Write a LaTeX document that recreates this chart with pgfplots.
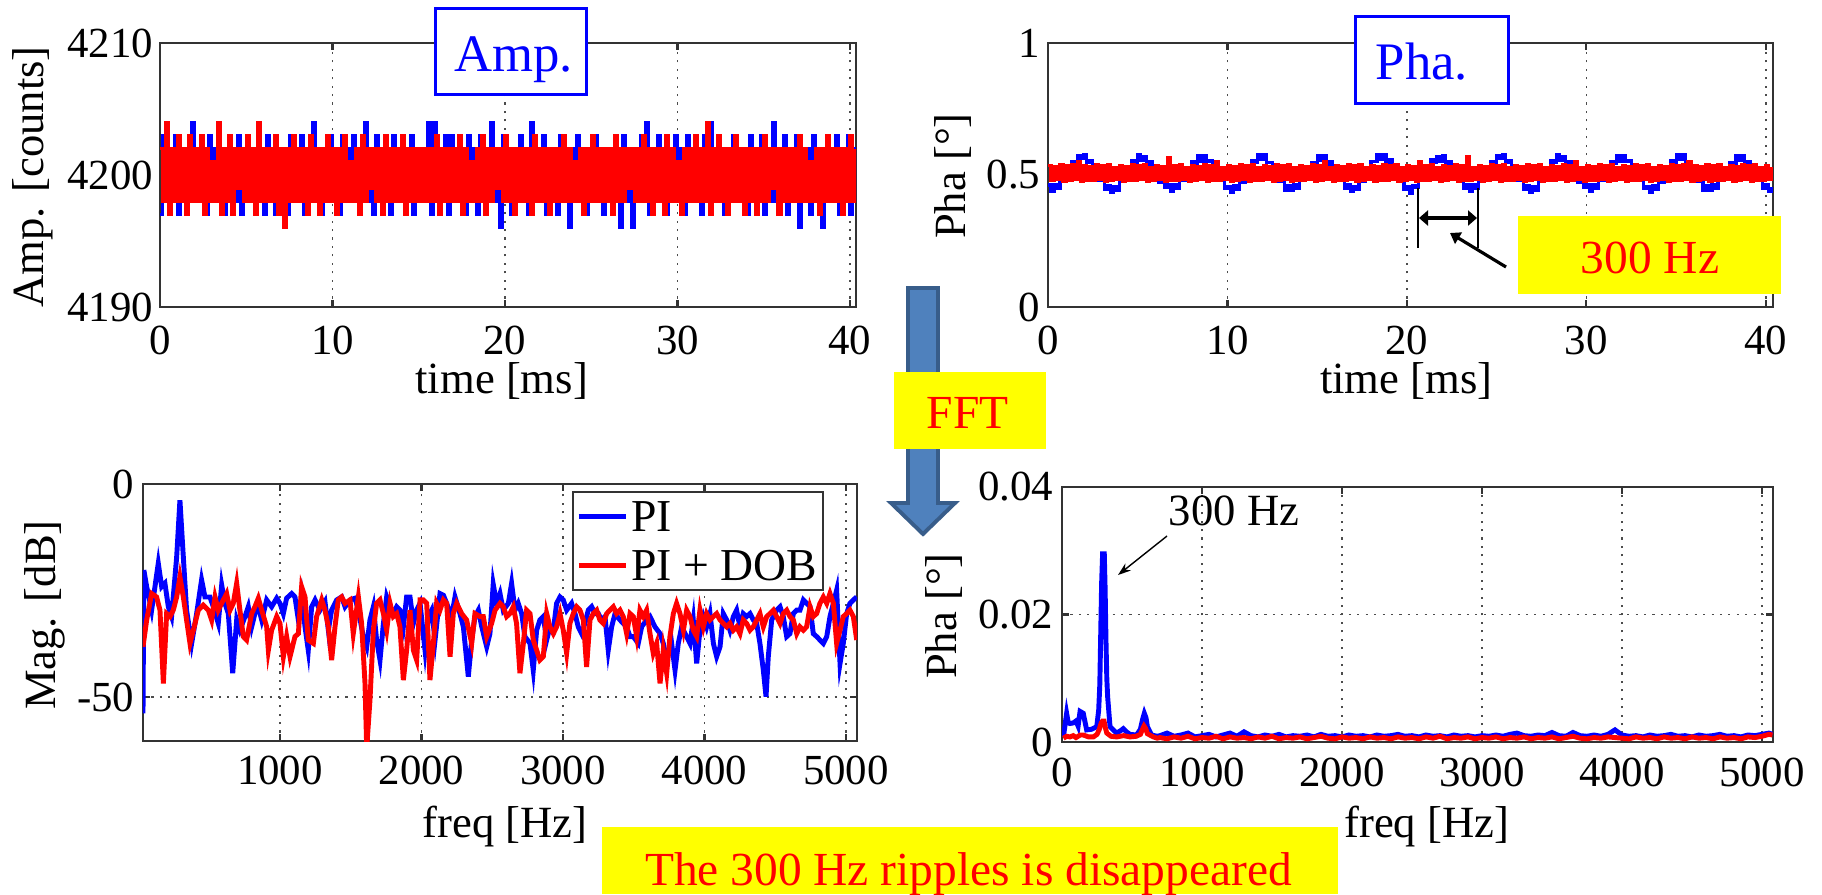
\documentclass[border=0pt]{standalone}
\usepackage{fontspec}
\setmainfont{Liberation Serif}
\usepackage{pgfplots}
\pgfplotsset{compat=1.18}
\usepackage{pgfplotstable}
\usetikzlibrary{arrows.meta}

\definecolor{arrowfill}{HTML}{4F81BD}
\definecolor{arrowdraw}{HTML}{385D8A}
\definecolor{hl}{HTML}{FFFF00}

% time records: a1/a2 = amplitude PI / PI+DOB, p1/p2 = phase PI / PI+DOB, one row every 1/6 ms
\pgfplotstableread{
a1 a2 p1 p2
4197 4202 0.462 0.536
4203 4198 0.439 0.478
4198 4204 0.465 0.532
4202 4197 0.448 0.482
4198 4202 0.478 0.540
4203 4198 0.474 0.475
4197 4203 0.516 0.534
4202 4198 0.514 0.480
4198 4202 0.550 0.538
4202 4197 0.541 0.484
4198 4203 0.574 0.550
4204 4198 0.561 0.477
4198 4202 0.578 0.536
4202 4198 0.547 0.479
4198 4203 0.554 0.532
4202 4197 0.518 0.478
4197 4202 0.522 0.540
4203 4198 0.478 0.482
4198 4201 0.478 0.534
4202 4198 0.444 0.475
4198 4204 0.459 0.538
4202 4197 0.435 0.480
4197 4202 0.458 0.530
4202 4198 0.443 0.484
4198 4203 0.482 0.536
4202 4197 0.482 0.477
4198 4202 0.521 0.532
4203 4199 0.517 0.479
4197 4202 0.554 0.540
4202 4198 0.548 0.478
4198 4203 0.579 0.534
4202 4198 0.557 0.482
4198 4202 0.570 0.538
4202 4197 0.542 0.475
4198 4204 0.551 0.530
4202 4198 0.514 0.480
4197 4202 0.515 0.536
4203 4198 0.473 0.484
4198 4202 0.482 0.532
4202 4198 0.452 0.477
4197 4203 0.464 0.566
4202 4197 0.438 0.479
4198 4202 0.462 0.534
4202 4196 0.450 0.478
4197 4202 0.487 0.538
4203 4198 0.478 0.482
4198 4203 0.513 0.530
4202 4198 0.512 0.475
4198 4202 0.551 0.536
4203 4198 0.544 0.480
4197 4202 0.572 0.532
4202 4197 0.552 0.484
4198 4203 0.574 0.540
4204 4198 0.550 0.477
4198 4202 0.556 0.534
4202 4197 0.517 0.479
4197 4202 0.519 0.550
4202 4198 0.480 0.478
4198 4203 0.487 0.530
4203 4198 0.448 0.482
4198 4202 0.456 0.536
4202 4197 0.433 0.475
4197 4202 0.459 0.532
4203 4198 0.446 0.480
4198 4203 0.480 0.540
4202 4198 0.473 0.484
4198 4201 0.517 0.534
4203 4198 0.520 0.477
4198 4202 0.556 0.538
4202 4197 0.547 0.479
4198 4203 0.576 0.530
4204 4198 0.559 0.478
4198 4202 0.579 0.536
4202 4199 0.546 0.482
4197 4202 0.548 0.532
4203 4198 0.512 0.475
4198 4202 0.516 0.540
4202 4197 0.476 0.480
4198 4203 0.480 0.534
4202 4198 0.443 0.484
4197 4202 0.460 0.538
4203 4198 0.441 0.477
4198 4202 0.464 0.530
4202 4198 0.449 0.479
4198 4203 0.484 0.536
4202 4197 0.480 0.478
4198 4202 0.522 0.532
4203 4198 0.516 0.482
4197 4202 0.548 0.540
4202 4198 0.542 0.475
4198 4202 0.573 0.534
4202 4198 0.555 0.480
4198 4202 0.572 0.550
4204 4198 0.541 0.484
4197 4202 0.552 0.530
4204 4198 0.520 0.477
4198 4203 0.521 0.536
4202 4197 0.479 0.479
4198 4202 0.484 0.532
4203 4198 0.450 0.478
4197 4202 0.465 0.540
4203 4198 0.437 0.482
4198 4202 0.456 0.534
4202 4198 0.444 0.475
4198 4203 0.481 0.538
4202 4197 0.476 0.480
4197 4202 0.515 0.530
4203 4198 0.511 0.484
4198 4201 0.552 0.536
4202 4198 0.550 0.477
4197 4202 0.578 0.532
4203 4198 0.558 0.479
4198 4203 0.576 0.540
4202 4197 0.548 0.478
4198 4202 0.557 0.534
4204 4198 0.516 0.482
4198 4202 0.513 0.538
4202 4199 0.474 0.475
4196 4202 0.481 0.530
4203 4198 0.446 0.480
4198 4203 0.458 0.536
4202 4198 0.432 0.484
4197 4202 0.460 0.532
4202 4197 0.452 0.477
4198 4202 0.486 0.550
4203 4198 0.479 0.479
4198 4202 0.519 0.534
4202 4198 0.518 0.478
4197 4202 0.557 0.538
4204 4197 0.546 0.482
4198 4203 0.570 0.530
4202 4198 0.553 0.475
4198 4202 0.573 0.536
4203 4198 0.544 0.480
4197 4202 0.550 0.532
4202 4197 0.511 0.484
4198 4202 0.517 0.540
4202 4198 0.482 0.477
4197 4202 0.486 0.534
4203 4198 0.449 0.479
4198 4203 0.462 0.570
4202 4198 0.439 0.478
4196 4202 0.465 0.530
4202 4198 0.448 0.482
4198 4201 0.478 0.536
4203 4198 0.474 0.475
4198 4202 0.516 0.532
4202 4197 0.514 0.480
4197 4202 0.550 0.540
4202 4198 0.541 0.484
4198 4203 0.574 0.534
4203 4198 0.561 0.477
4198 4202 0.578 0.538
4202 4198 0.547 0.479
4197 4202 0.554 0.530
4202 4198 0.518 0.478
4198 4202 0.522 0.536
4202 4197 0.478 0.482
4198 4203 0.478 0.532
4202 4198 0.444 0.475
4196 4202 0.459 0.540
4203 4198 0.435 0.480
4198 4202 0.458 0.534
4202 4199 0.443 0.484
4196 4202 0.482 0.538
4202 4198 0.482 0.477
4198 4202 0.521 0.530
4203 4198 0.517 0.479
4198 4203 0.554 0.536
4204 4198 0.548 0.478
4197 4202 0.579 0.532
4202 4197 0.557 0.482
4198 4202 0.570 0.540
4203 4198 0.542 0.475
4198 4202 0.551 0.534
4202 4197 0.514 0.480
4197 4203 0.515 0.550
4202 4198 0.473 0.484
4198 4202 0.482 0.530
4203 4198 0.452 0.477
4198 4201 0.464 0.536
4202 4197 0.438 0.479
4197 4202 0.462 0.532
4203 4198 0.450 0.478
4198 4202 0.487 0.540
4202 4198 0.478 0.482
4198 4203 0.513 0.534
4202 4198 0.512 0.475
4197 4202 0.551 0.538
4203 4198 0.544 0.480
4198 4204 0.572 0.530
4204 4197 0.552 0.484
4198 4202 0.574 0.536
4202 4198 0.550 0.477
4198 4203 0.556 0.532
4202 4198 0.517 0.479
4197 4202 0.519 0.540
4202 4197 0.480 0.478
4198 4202 0.487 0.534
4203 4198 0.448 0.482
4198 4203 0.456 0.538
4202 4198 0.433 0.475
4198 4202 0.459 0.530
4202 4197 0.446 0.480
4197 4202 0.480 0.536
4203 4198 0.473 0.484
4198 4202 0.517 0.532
4202 4197 0.520 0.477
4198 4202 0.556 0.540
4203 4198 0.547 0.479
4197 4203 0.576 0.534
4202 4198 0.559 0.478
4198 4202 0.579 0.538
4204 4199 0.546 0.482
4198 4202 0.548 0.550
4202 4197 0.512 0.475
4198 4202 0.516 0.536
4203 4198 0.476 0.480
4197 4202 0.480 0.532
4202 4198 0.443 0.484
4198 4202 0.460 0.540
4203 4198 0.441 0.477
4196 4203 0.464 0.534
4202 4198 0.449 0.479
4198 4202 0.484 0.538
4202 4198 0.480 0.478
4197 4201 0.522 0.530
4203 4198 0.516 0.482
4198 4202 0.548 0.536
4202 4197 0.542 0.475
4196 4202 0.573 0.532
4202 4198 0.555 0.480
4198 4203 0.572 0.540
4202 4198 0.541 0.484
4198 4202 0.552 0.534
4203 4198 0.520 0.477
4197 4202 0.521 0.538
4202 4197 0.479 0.479
4198 4202 0.484 0.530
4203 4198 0.450 0.478
4197 4203 0.465 0.536
4202 4198 0.437 0.482
4198 4202 0.456 0.532
}\timedata

% magnitude spectra [dB]
\pgfplotstableread{
f db
32 -53.8
38 -20.2
58 -24.1
93 -29.6
140 -18.6
164 -24.1
187 -23.3
211 -28.8
234 -31.1
270 -17.1
293 -3.8
317 -17.1
340 -29.6
376 -37.4
411 -30.4
446 -22.5
470 -26.5
505 -26.5
529 -28.8
564 -32.7
588 -23.7
611 -28.0
635 -30.4
666 -44.4
694 -31.9
717 -34.3
753 -31.1
776 -28.8
800 -33.5
823 -30.4
847 -28.8
871 -31.9
906 -27.2
941 -28.8
977 -26.8
1000 -28.0
1024 -30.4
1047 -26.8
1083 -25.7
1106 -26.5
1130 -31.9
1153 -26.5
1177 -33.5
1200 -39.0
1224 -28.8
1248 -27.2
1283 -29.6
1318 -27.6
1342 -34.3
1365 -29.6
1401 -27.2
1436 -26.5
1460 -28.8
1495 -27.2
1530 -26.8
1554 -29.6
1589 -35.8
1613 -38.2
1636 -31.9
1660 -28.8
1683 -36.6
1707 -41.3
1731 -32.7
1754 -26.5
1778 -28.8
1801 -30.4
1825 -28.8
1848 -29.6
1872 -33.5
1895 -26.5
1919 -26.5
1943 -32.7
1966 -29.6
1990 -28.0
2025 -39.0
2049 -31.1
2072 -29.6
2096 -36.6
2131 -25.7
2155 -26.1
2178 -28.0
2213 -31.1
2237 -26.5
2272 -30.4
2296 -33.5
2331 -45.2
2355 -36.6
2378 -31.1
2402 -29.6
2426 -33.5
2461 -38.2
2484 -35.1
2507 -23.5
2531 -28.0
2555 -25.7
2578 -29.6
2614 -28.0
2637 -23.3
2661 -29.6
2684 -28.0
2708 -30.4
2731 -35.8
2767 -37.4
2790 -43.7
2814 -34.3
2837 -31.9
2861 -31.1
2885 -36.6
2908 -33.5
2932 -34.3
2955 -28.0
2979 -26.5
3002 -27.2
3026 -29.6
3061 -28.0
3085 -30.4
3108 -33.5
3132 -35.1
3155 -32.7
3179 -29.6
3203 -28.8
3226 -30.4
3250 -30.4
3273 -31.9
3297 -31.1
3320 -39.0
3344 -33.5
3368 -30.4
3403 -31.9
3426 -32.7
3450 -33.5
3474 -35.8
3497 -35.8
3532 -37.4
3556 -33.5
3591 -31.9
3615 -31.1
3650 -33.5
3686 -35.1
3709 -37.4
3733 -41.3
3768 -37.4
3792 -43.7
3815 -37.4
3839 -33.5
3874 -35.8
3898 -37.4
3921 -31.9
3945 -42.1
3968 -34.3
3992 -31.1
4015 -33.5
4039 -30.4
4063 -37.4
4086 -40.5
4110 -38.2
4133 -30.4
4157 -31.9
4180 -34.3
4204 -31.1
4227 -29.6
4251 -33.5
4274 -30.4
4298 -31.1
4322 -30.4
4345 -31.9
4369 -32.7
4392 -37.4
4416 -43.7
4435 -49.9
4451 -40.5
4475 -31.9
4510 -29.6
4534 -28.8
4557 -31.1
4581 -35.8
4604 -35.1
4628 -30.4
4652 -29.6
4675 -29.6
4699 -27.2
4722 -28.0
4746 -28.8
4769 -35.1
4793 -35.8
4816 -36.6
4840 -37.4
4864 -35.8
4887 -31.1
4911 -28.0
4934 -24.9
4958 -42.1
4981 -37.4
5005 -30.4
5028 -28.0
5052 -27.2
5076 -26.5
}\magpi

\pgfplotstableread{
f db
32 -38.2
58 -31.9
93 -25.7
128 -26.5
152 -29.6
176 -46.8
199 -30.4
223 -31.1
246 -29.6
270 -26.5
293 -21.8
317 -26.5
340 -31.9
364 -37.4
388 -34.3
423 -29.6
458 -28.4
494 -29.6
517 -31.9
541 -26.5
564 -29.6
588 -28.0
623 -25.7
647 -29.6
670 -28.0
694 -23.3
717 -29.6
741 -35.8
764 -36.6
800 -30.4
823 -28.8
847 -26.8
871 -29.6
906 -33.5
918 -39.0
941 -34.3
977 -31.1
1000 -32.7
1024 -40.5
1047 -35.8
1071 -40.5
1106 -35.8
1130 -35.1
1153 -24.1
1177 -26.5
1200 -36.6
1236 -37.4
1259 -31.1
1295 -27.2
1318 -29.6
1342 -33.5
1365 -41.3
1389 -33.5
1412 -27.2
1436 -26.5
1460 -28.0
1495 -27.2
1518 -35.1
1554 -26.5
1577 -32.7
1601 -46.8
1613 -62.0
1636 -50.7
1660 -34.3
1683 -28.0
1707 -27.2
1731 -30.4
1754 -34.3
1778 -28.0
1801 -31.1
1825 -30.4
1848 -33.5
1872 -46.0
1895 -39.0
1919 -29.6
1943 -39.0
1966 -41.3
1990 -27.2
2013 -27.2
2037 -28.0
2060 -46.0
2084 -37.4
2107 -28.0
2131 -29.6
2155 -27.2
2178 -28.0
2202 -40.5
2225 -30.4
2249 -28.0
2284 -30.4
2319 -31.9
2355 -37.4
2378 -30.4
2414 -31.1
2437 -31.1
2461 -35.8
2496 -32.7
2520 -29.6
2555 -28.0
2578 -28.8
2602 -31.1
2625 -30.4
2649 -28.8
2672 -32.7
2696 -44.4
2720 -37.4
2743 -29.6
2767 -30.4
2790 -36.6
2814 -39.0
2837 -41.3
2861 -40.5
2885 -30.4
2908 -33.5
2932 -35.1
2955 -33.5
2979 -30.4
3002 -34.3
3026 -39.7
3049 -32.7
3073 -30.4
3097 -28.8
3120 -29.6
3144 -31.9
3167 -42.9
3191 -31.9
3214 -30.4
3238 -29.6
3261 -31.9
3285 -32.7
3309 -30.4
3332 -29.6
3356 -28.8
3379 -30.4
3403 -29.6
3426 -31.1
3450 -35.1
3474 -30.4
3497 -31.1
3521 -35.8
3544 -29.6
3568 -31.1
3591 -29.6
3615 -35.1
3638 -39.7
3662 -37.4
3686 -46.8
3709 -39.0
3733 -44.4
3756 -35.8
3780 -30.4
3803 -28.0
3827 -30.4
3851 -34.3
3874 -29.6
3898 -31.1
3921 -34.3
3945 -35.8
3968 -29.6
3992 -33.5
4015 -30.4
4039 -31.9
4063 -31.1
4086 -30.4
4110 -31.9
4133 -32.7
4157 -33.5
4180 -32.7
4204 -34.3
4227 -33.5
4251 -35.1
4274 -31.9
4298 -32.7
4322 -34.3
4345 -33.5
4369 -31.9
4392 -30.4
4416 -33.5
4440 -31.1
4463 -30.4
4487 -29.6
4510 -31.1
4534 -32.7
4557 -30.4
4581 -29.6
4604 -31.1
4628 -31.9
4652 -35.1
4675 -33.5
4699 -34.3
4722 -33.5
4746 -28.8
4769 -31.1
4793 -30.4
4816 -28.0
4840 -26.5
4864 -28.0
4887 -25.7
4911 -28.0
4934 -37.4
4958 -34.3
4981 -31.1
5005 -30.4
5028 -29.6
5052 -31.1
5076 -36.6
}\magdob

% phase spectra [deg]
\pgfplotstableread{
f v
10 0.0008
33 0.0045
45 0.0030
57 0.0029
81 0.0030
100 0.0033
115 0.0025
129 0.0048
152 0.0045
176 0.0019
212 0.0020
248 0.0024
262 0.0050
270 0.0090
276 0.0163
283 0.0249
290 0.0295
302 0.0295
308 0.0240
314 0.0160
320 0.0100
326 0.0071
343 0.0024
390 0.0014
420 0.0018
438 0.0021
460 0.0016
486 0.0012
533 0.0011
560 0.0020
575 0.0035
588 0.0045
600 0.0038
610 0.0024
640 0.0011
680 0.0009
700 0.0010
750 0.0014
800 0.0009
850 0.0011
900 0.0014
950 0.0008
1000 0.0010
1050 0.0012
1100 0.0008
1150 0.0011
1200 0.0014
1250 0.0009
1300 0.0016
1350 0.0010
1400 0.0008
1450 0.0011
1500 0.0009
1550 0.0012
1600 0.0008
1650 0.0010
1700 0.0009
1750 0.0011
1800 0.0008
1850 0.0012
1900 0.0009
1950 0.0010
2000 0.0008
2050 0.0011
2100 0.0009
2150 0.0010
2200 0.0008
2250 0.0011
2300 0.0009
2350 0.0010
2400 0.0012
2450 0.0009
2500 0.0010
2550 0.0008
2600 0.0011
2650 0.0009
2700 0.0010
2750 0.0008
2800 0.0011
2850 0.0009
2900 0.0010
2950 0.0008
3000 0.0010
3050 0.0009
3100 0.0011
3150 0.0009
3200 0.0012
3250 0.0014
3300 0.0010
3350 0.0009
3400 0.0011
3450 0.0010
3500 0.0015
3550 0.0010
3600 0.0009
3650 0.0015
3700 0.0010
3750 0.0009
3800 0.0011
3850 0.0009
3900 0.0012
3950 0.0019
4000 0.0011
4050 0.0009
4100 0.0010
4150 0.0008
4200 0.0011
4250 0.0009
4300 0.0010
4350 0.0012
4400 0.0009
4450 0.0010
4500 0.0008
4550 0.0011
4600 0.0009
4650 0.0010
4700 0.0012
4750 0.0009
4800 0.0010
4850 0.0008
4900 0.0011
4950 0.0010
5000 0.0012
5050 0.0014
5075 0.0012
}\phapi

\pgfplotstableread{
f v
10 0.0006
33 0.0009
57 0.0008
80 0.0010
100 0.0007
130 0.0011
152 0.0011
190 0.0008
224 0.0008
250 0.0012
265 0.0019
280 0.0030
290 0.0033
300 0.0033
310 0.0022
320 0.0014
350 0.0009
390 0.0008
440 0.0010
486 0.0008
530 0.0009
560 0.0012
575 0.0020
586 0.0025
598 0.0021
610 0.0013
652 0.0008
680 0.0006
700 0.0007
750 0.0005
800 0.0008
850 0.0006
900 0.0009
950 0.0005
1000 0.0007
1050 0.0006
1100 0.0009
1150 0.0005
1200 0.0008
1250 0.0006
1300 0.0007
1350 0.0005
1400 0.0008
1450 0.0006
1500 0.0009
1550 0.0005
1600 0.0007
1650 0.0006
1700 0.0008
1750 0.0005
1800 0.0007
1850 0.0009
1900 0.0006
1950 0.0005
2000 0.0008
2050 0.0006
2100 0.0007
2150 0.0005
2200 0.0008
2250 0.0006
2300 0.0007
2350 0.0005
2400 0.0008
2450 0.0006
2500 0.0007
2550 0.0005
2600 0.0008
2650 0.0006
2700 0.0009
2750 0.0005
2800 0.0007
2850 0.0006
2900 0.0008
2950 0.0005
3000 0.0007
3050 0.0006
3100 0.0008
3150 0.0005
3200 0.0007
3250 0.0006
3300 0.0008
3350 0.0005
3400 0.0007
3450 0.0006
3500 0.0008
3550 0.0005
3600 0.0007
3650 0.0009
3700 0.0006
3750 0.0005
3800 0.0007
3850 0.0006
3900 0.0008
3950 0.0007
4000 0.0006
4050 0.0005
4100 0.0008
4150 0.0006
4200 0.0007
4250 0.0005
4300 0.0008
4350 0.0006
4400 0.0007
4450 0.0005
4500 0.0008
4550 0.0006
4600 0.0007
4650 0.0005
4700 0.0008
4750 0.0006
4800 0.0007
4850 0.0005
4900 0.0008
4950 0.0007
5000 0.0009
5050 0.0012
5075 0.0011
}\phadob

\pgfplotsset{
  panel/.style={
    scale only axis, anchor=north west,
    axis line style={black!80, line width=0.6pt},
    tick style={black!80, line width=0.6pt},
    tick align=inside, tick pos=both, major tick length=0.07cm,
    scaled ticks=false,
    grid=major,
    major grid style={black!70, line width=0.5pt, dash pattern=on 0.6pt off 1.8pt},
    tick label style={font=\fontsize{12.2}{12.2}\selectfont, inner sep=0pt},
    label style={font=\fontsize{12.7}{12.7}\selectfont},
  },
}

\begin{document}
\begin{tikzpicture}
\useasboundingbox (0,0) rectangle (18.22,-8.94);

% amplitude vs time
\begin{axis}[panel, at={(1.60cm,-0.43cm)}, width=6.96cm, height=2.64cm,
  xmin=0, xmax=40.35, ymin=4190, ymax=4210,
  xtick={0,10,20,30,40}, xticklabels={0,10,20,30,40},
  ytick={4190,4200,4210}, yticklabels={4190,4200,4210},
  xticklabel style={yshift=-0.18cm}, yticklabel style={xshift=-0.06cm},
  xlabel={time [ms]}, ylabel={Amp. [counts]},
  xlabel style={at={(axis description cs:0.491,-0.326)}, anchor=base},
  ylabel style={at={(axis description cs:-0.168,0.492)}, anchor=base}]
\addplot[blue, line width=0.9pt, mark=none, const plot] table[x expr=\coordindex/6, y=a1] {\timedata};
\addplot[red, line width=0.9pt, mark=none, const plot] table[x expr=\coordindex/6, y=a2] {\timedata};
\end{axis}

% phase vs time
\begin{axis}[panel, at={(10.48cm,-0.43cm)}, width=7.25cm, height=2.64cm,
  xmin=0, xmax=40.4, ymin=0, ymax=1,
  xtick={0,10,20,30,40}, xticklabels={0,10,20,30,40},
  ytick={0,0.5,1}, yticklabels={0,0.5,1},
  xticklabel style={yshift=-0.18cm}, yticklabel style={xshift=-0.07cm},
  xlabel={time [ms]}, ylabel={Pha [°]},
  xlabel style={at={(axis description cs:0.494,-0.326)}, anchor=base},
  ylabel style={at={(axis description cs:-0.1145,0.496)}, anchor=base}]
\addplot[blue, line width=0.9pt, mark=none, const plot] table[x expr=\coordindex/6, y=p1] {\timedata};
\addplot[red, line width=0.9pt, mark=none, const plot] table[x expr=\coordindex/6, y=p2] {\timedata};
\end{axis}

% magnitude spectrum
\begin{axis}[panel, at={(1.43cm,-4.84cm)}, width=7.14cm, height=2.57cm,
  xmin=32, xmax=5078, ymin=-60.3, ymax=0,
  xtick={1000,2000,3000,4000,5000}, xticklabels={1000,2000,3000,4000,5000},
  ytick={-50,0}, yticklabels={-50,0},
  xticklabel style={yshift=-0.14cm}, yticklabel style={xshift=-0.08cm},
  xlabel={freq [Hz]}, ylabel={Mag. [dB]},
  xlabel style={at={(axis description cs:0.507,-0.377)}, anchor=base},
  ylabel style={at={(axis description cs:-0.122,0.49)}, anchor=base},
  legend cell align=left,
  legend image code/.code={\draw[#1] (0cm,0cm) -- (0.47cm,0cm);},
  legend style={at={(axis description cs:0.601,0.973)}, anchor=north west,
    draw=black!80, line width=0.6pt, fill=white,
    font=\fontsize{13}{13}\selectfont, inner xsep=0.03cm, inner ysep=0.05cm,
    row sep=0.1cm, nodes={inner sep=0.03cm, text height=0.31cm, text depth=0.02cm}}]
\addplot[blue, line width=1.4pt, mark=none] table[x=f, y=db] {\magpi};
\addlegendentry{PI}
\addplot[red, line width=1.4pt, mark=none] table[x=f, y=db] {\magdob};
\addlegendentry{PI + DOB}
\end{axis}

% phase spectrum
\begin{axis}[panel, at={(10.62cm,-4.87cm)}, width=7.11cm, height=2.55cm,
  xmin=0, xmax=5079, ymin=0, ymax=0.04,
  xtick={0,1000,2000,3000,4000,5000}, xticklabels={0,1000,2000,3000,4000,5000},
  ytick={0,0.02,0.04}, yticklabels={0,0.02,0.04},
  xticklabel style={yshift=-0.15cm}, yticklabel style={xshift=-0.08cm},
  xlabel={freq [Hz]}, ylabel={Pha [°]},
  xlabel style={at={(axis description cs:0.513,-0.373)}, anchor=base},
  ylabel style={at={(axis description cs:-0.149,0.494)}, anchor=base}]
\addplot[blue, line width=1.4pt, mark=none] table[x=f, y=v] {\phapi};
\addplot[red, line width=1.4pt, mark=none] table[x=f, y=v] {\phadob};
\end{axis}

% panel titles
\draw[blue, line width=0.85pt, fill=white] (4.35,-0.08) rectangle (5.86,-0.94);
\node[blue, anchor=base, inner sep=0pt, font=\fontsize{15}{15}\selectfont] at (5.135,-0.71) {Amp.};
\draw[blue, line width=0.85pt, fill=white] (13.55,-0.16) rectangle (15.08,-1.03);
\node[blue, anchor=base, inner sep=0pt, font=\fontsize{15}{15}\selectfont] at (14.22,-0.79) {Pha.};

% 300 Hz period marker
\draw[line width=0.6pt] (14.18,-1.88) -- (14.18,-2.48);
\draw[line width=0.6pt] (14.78,-1.88) -- (14.78,-2.48);
\draw[line width=0.9pt, {Triangle[length=0.09cm,width=0.15cm]}-{Triangle[length=0.09cm,width=0.15cm]}] (14.19,-2.18) -- (14.77,-2.18);
\draw[line width=0.9pt, -{Triangle[length=0.1cm,width=0.13cm]}] (15.06,-2.67) -- (14.50,-2.33);
\fill[hl] (15.18,-2.16) rectangle (17.81,-2.94);
\node[red, anchor=base, inner sep=0pt, font=\fontsize{13.5}{13.5}\selectfont] at (16.50,-2.73) {300 Hz};

% FFT arrow
\draw[arrowdraw, fill=arrowfill, line width=1.1pt] (9.08,-2.88) -- (9.38,-2.88) -- (9.38,-5.03) -- (9.55,-5.03) -- (9.23,-5.34) -- (8.91,-5.03) -- (9.08,-5.03) -- cycle;
\fill[hl] (8.94,-3.72) rectangle (10.46,-4.49);
\node[red, anchor=base, inner sep=0pt, font=\fontsize{13.5}{13.5}\selectfont] at (9.675,-4.28) {FFT};

% spectrum annotation
\node[anchor=base, inner sep=0pt, font=\fontsize{12.7}{12.7}\selectfont] at (12.34,-5.25) {300 Hz};
\draw[line width=0.4pt, -{Stealth[length=0.13cm,width=0.09cm]}] (11.67,-5.36) -- (11.18,-5.75);

% conclusion
\fill[hl] (6.02,-8.27) rectangle (13.38,-8.94);
\node[red, anchor=base, inner sep=0pt, font=\fontsize{13.5}{13.5}\selectfont] at (9.685,-8.85) {The 300 Hz ripples is disappeared};
\end{tikzpicture}
\end{document}
